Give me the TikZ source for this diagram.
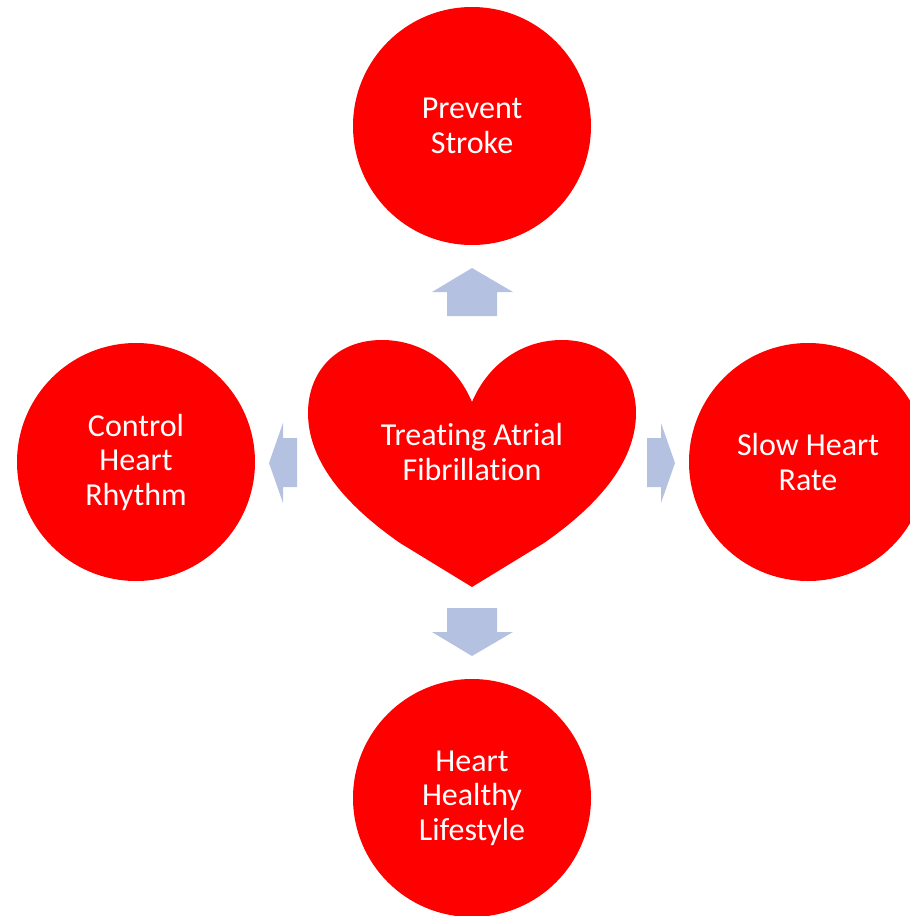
\documentclass[tikz,border=0pt]{standalone}
\usepackage{fontspec}
\setmainfont[Ligatures={NoCommon}]{Carlito}
\definecolor{hred}{HTML}{FF0000}
\definecolor{arrowblue}{HTML}{B4C1E1}
\begin{document}
\begin{tikzpicture}[x=1pt,y=-1pt,
  goal/.style={circle,fill=hred,draw=none,minimum size=238pt,inner sep=0pt,
    text=white,align=center,font=\fontsize{32}{34.5}\selectfont},
  blockarrow/.style={fill=arrowblue,draw=none}]
\useasboundingbox (0,0) rectangle (910,916);
\clip (0,0) rectangle (910,916);
% goal circles
\node[goal] (stroke) at (472,126) {Prevent\\Stroke};
\node[goal] (rhythm) at (136,462) {Control\\Heart\\Rhythm};
\node[goal] (rate) at (808,462) {Slow Heart\\Rate};
\node[goal] (life) at (472,798) {Heart\\Healthy\\Lifestyle};
% heart
\fill[hred] (472,402)
  .. controls (455,362) and (420,340) .. (382,340)
  .. controls (336,340) and (308,372) .. (308,413)
  .. controls (308,470) and (360,515) .. (400,543)
  -- (472,587) -- (544,543)
  .. controls (584,515) and (636,470) .. (636,413)
  .. controls (636,372) and (608,340) .. (562,340)
  .. controls (524,340) and (489,362) .. (472,402) -- cycle;
\node[text=white,align=center,font=\fontsize{32}{34.5}\selectfont] (center) at (472,452) {Treating Atrial\\Fibrillation};
% block arrows
\fill[blockarrow] (447,316) -- (447,292) -- (432,292) -- (472,268) -- (513,292) -- (497,292) -- (497,316) -- cycle;
\fill[blockarrow] (447,608) -- (447,632) -- (432,632) -- (472,656) -- (513,632) -- (497,632) -- (497,608) -- cycle;
\fill[blockarrow] (297,438) -- (283,438) -- (283,423) -- (269,463) -- (283,503) -- (283,487) -- (297,487) -- cycle;
\fill[blockarrow] (647,438) -- (661,438) -- (661,423) -- (675,463) -- (661,503) -- (661,487) -- (647,487) -- cycle;
\end{tikzpicture}
\end{document}
